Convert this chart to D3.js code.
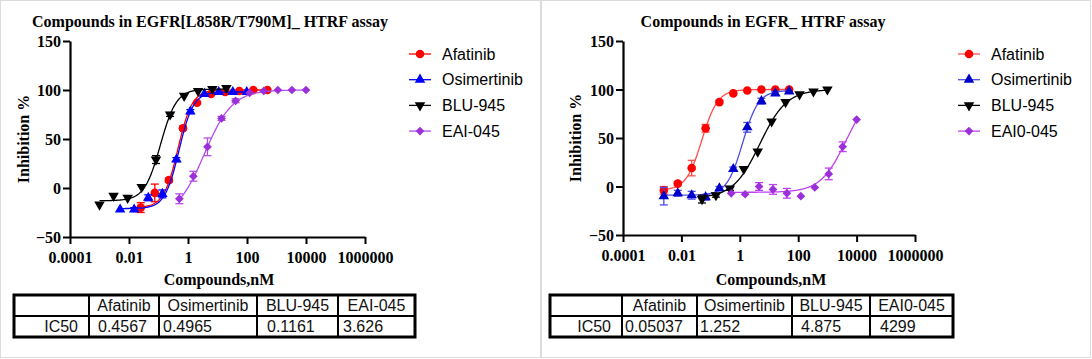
<!DOCTYPE html>
<html>
<head>
<meta charset="utf-8">
<script src="https://cdn.jsdelivr.net/npm/d3@7"></script>
<style>
  body { margin: 0; background: #fff; }
  svg { display: block; }
  .serif { font-family: "Liberation Serif", "Times New Roman", serif; font-weight: bold; }
  .sans { font-family: "Liberation Sans", Arial, sans-serif; }
</style>
</head>
<body>
<script>
// ---- data ----
const xTickValues = [1e-4, 1e-2, 1, 1e2, 1e4, 1e6];
const xTickLabels = ['0.0001', '0.01', '1', '100', '10000', '1000000'];
const yTickValues = [-50, 0, 50, 100, 150];

// left panel: EGFR[L858R/T790M]
const leftTitle = 'Compounds in EGFR[L858R/T790M]_ HTRF assay';
const leftNames = ['Afatinib', 'Osimertinib', 'BLU-945', 'EAI-045'];
const leftIC50 = ['0.4567', '0.4965', '0.1161', '3.626'];
const leftConcAfatinib = [0.025, 0.075, 0.225, 0.675, 2.03, 6.08, 18.2, 54.7, 164, 492];
const leftAfatinib = [-20, -5, 8, 61, 87, 96, 98, 99, 100, 100];
const leftAfatinibErr = [5, 9, 2, 2, 1, 1, 1, 1, 1, 1];
const leftConcOsimertinib = [0.005, 0.015, 0.045, 0.135, 0.405, 1.2, 3.6, 11, 33, 98];
const leftOsimertinib = [-22, -22, -10, -6, 29, 78, 96, 98, 98, 98];
const leftOsimertinibErr = [1, 2, 3, 4, 2, 2, 1, 1, 1, 1];
const leftConcBLU = [0.001, 0.003, 0.009, 0.027, 0.082, 0.247, 0.74, 2.2, 6.7, 20];
const leftBLU = [-17, -8, -10, 1, 29, 75, 94, 99, 101, 102];
const leftBLUErr = [1, 1, 1, 1, 4, 2, 1, 1, 1, 1];
const leftConcEAI = [0.51, 1.52, 4.57, 13.7, 41, 123, 370, 1111, 3333, 10000];
const leftEAI = [-11, 12, 42, 71, 89, 97, 99, 100, 100, 100];
const leftEAIErr = [5, 5, 9, 2, 2, 1, 1, 0, 0, 0];
// fitted 4PL curves (bottom, top, hill); IC50 from the table
const leftBottom = [-20, -21, -13, -30];
const leftTop = [100, 98, 101, 100];
const leftHill = [1.8, 1.8, 1.6, 0.92];

// right panel: EGFR wt
const rightTitle = 'Compounds in EGFR_ HTRF assay';
const rightNames = ['Afatinib', 'Osimertinib', 'BLU-945', 'EAI0-045'];
const rightIC50 = ['0.05037', '1.252', '4.875', '4299'];
const rightConcAfatinib = [0.0025, 0.0075, 0.0225, 0.0675, 0.2, 0.6, 1.8, 5.5, 16.5, 49];
const rightAfatinib = [-4, 3, 19, 60, 87, 96, 99, 100, 100, 100];
const rightAfatinibErr = [4, 2, 8, 4, 2, 1, 1, 1, 1, 1];
const rightConcOsimertinib = [0.0025, 0.0075, 0.0225, 0.0675, 0.2, 0.6, 1.8, 5.5, 16.5, 49];
const rightOsimertinib = [-10, -7, -9, -11, -2, 18, 61, 88, 96, 98];
const rightOsimertinibErr = [9, 3, 4, 3, 2, 2, 5, 3, 2, 1];
const rightConcBLU = [0.0508, 0.152, 0.457, 1.37, 4.12, 12.3, 37, 111, 333, 1000];
const rightBLU = [-13, -9, -2, 18, 36, 67, 87, 95, 98, 100];
const rightBLUErr = [4, 2, 2, 1, 1, 1, 1, 1, 1, 1];
const rightConcEAI = [0.508, 1.52, 4.57, 13.7, 41, 123, 370, 1111, 3333, 10000];
const rightEAI = [-7, -8, 0, -3, -7, -10, -1, 13, 41, 69];
const rightEAIErr = [1, 1, 4, 5, 5, 1, 1, 6, 5, 1];
const rightBottom = [-4, -9, -12, -6];
const rightTop = [100, 99, 100, 100];
const rightHill = [1.6, 1.6, 0.95, 1.0];

// ---- styling ----
const W = 1092, H = 359;
const symbols = [
  {type: d3.symbolCircle, size: 58, rot: 0},
  {type: d3.symbolTriangle, size: 48, rot: 0},
  {type: d3.symbolTriangle, size: 48, rot: 180},
  {type: d3.symbolSquare, size: 38, rot: 45}
];
const leftColors = {line: ['#ff0000', '#0000ff', '#000000', '#b54dee'], mark: ['#ff0000', '#0000ff', '#000000', '#9b30d9']};
const rightColors = {line: ['#ff4d4d', '#4d4de6', '#000000', '#c040f0'], mark: ['#ff0000', '#0000cc', '#000000', '#9b30d9']};

const svg = d3.select('body').append('svg').attr('width', W).attr('height', H);

// panel frames
svg.append('rect').attr('x', 0.5).attr('y', 0.5).attr('width', 540).attr('height', 357)
  .attr('fill', 'none').attr('stroke', '#dcdcdc');
svg.append('rect').attr('x', 541.5).attr('y', 0.5).attr('width', 549).attr('height', 357)
  .attr('fill', 'none').attr('stroke', '#dcdcdc');

const fourPL = (c, bottom, top, hill, ic50) =>
  bottom + (top - bottom) / (1 + Math.pow(10, hill * (Math.log10(ic50) - Math.log10(c))));

function drawPanel(cfg) {
  const x = d3.scaleLog().domain([1e-4, 1e6]).range([cfg.x0, cfg.x1]);
  const y = d3.scaleLinear().domain([-50, 150]).range([cfg.yBottom, cfg.yTop]);
  const g = svg.append('g');

  g.append('text').attr('class', 'serif').attr('x', cfg.titleX).attr('y', 27)
    .attr('text-anchor', 'middle').attr('font-size', 16).text(cfg.title);

  const xAxis = g.append('g').attr('transform', `translate(0,${cfg.yBottom})`)
    .call(d3.axisBottom(x).tickValues(xTickValues).tickSize(7).tickSizeOuter(0)
      .tickFormat((d, i) => xTickLabels[i]));
  const yAxis = g.append('g').attr('transform', `translate(${cfg.x0},0)`)
    .call(d3.axisLeft(y).tickValues(yTickValues).tickSize(7).tickSizeOuter(0));
  [xAxis, yAxis].forEach(a => {
    a.select('.domain').attr('stroke-width', 2.2);
    a.selectAll('.tick line').attr('stroke-width', 2);
    a.selectAll('.tick text').attr('class', 'serif').attr('font-size', 16).attr('fill', '#000');
  });
  xAxis.selectAll('.tick text').attr('dy', null).attr('y', 26);
  yAxis.selectAll('.tick text').attr('x', -9).attr('dy', '0.35em');

  g.append('text').attr('class', 'serif').attr('font-size', 16)
    .attr('transform', `translate(${cfg.yLabelX},${(cfg.yTop + cfg.yBottom) / 2}) rotate(-90)`)
    .attr('text-anchor', 'middle').text('Inhibition %');
  g.append('text').attr('class', 'serif').attr('font-size', 16)
    .attr('x', cfg.xLabelX).attr('y', 285).attr('text-anchor', 'middle').text('Compounds,nM');

  const line = d3.line().x(d => x(d[0])).y(d => y(d[1]));

  cfg.series.forEach((s, i) => {
    const lineColor = cfg.colors.line[i], markColor = cfg.colors.mark[i];
    const ic50 = +cfg.ic50[i];
    const lo = Math.log10(d3.min(s.conc)), hi = Math.log10(d3.max(s.conc));
    const curve = d3.range(0, 201).map(k => {
      const c = Math.pow(10, lo + (hi - lo) * k / 200);
      return [c, fourPL(c, cfg.bottom[i], cfg.top[i], cfg.hill[i], ic50)];
    });
    g.append('path').attr('d', line(curve)).attr('fill', 'none')
      .attr('stroke', lineColor).attr('stroke-width', 1.3);

    const pts = s.conc.map((c, j) => ({c, v: s.vals[j], e: s.err[j]}));
    const eb = g.append('g').attr('stroke', lineColor).attr('stroke-width', 1.3);
    pts.filter(p => p.e >= 2).forEach(p => {
      const px = x(p.c);
      eb.append('line').attr('x1', px).attr('x2', px).attr('y1', y(p.v - p.e)).attr('y2', y(p.v + p.e));
      [p.v - p.e, p.v + p.e].forEach(v =>
        eb.append('line').attr('x1', px - 4).attr('x2', px + 4).attr('y1', y(v)).attr('y2', y(v)));
    });
    const sym = d3.symbol().type(symbols[i].type).size(symbols[i].size);
    g.selectAll(null).data(pts).enter().append('path')
      .attr('d', sym)
      .attr('transform', p => `translate(${x(p.c)},${y(p.v)}) rotate(${symbols[i].rot})`)
      .attr('fill', markColor);

    // legend
    const ly = 54 + i * 25.7;
    g.append('line').attr('x1', cfg.legendX - 11).attr('x2', cfg.legendX + 11)
      .attr('y1', ly).attr('y2', ly).attr('stroke', lineColor).attr('stroke-width', 1.3);
    g.append('path').attr('d', sym)
      .attr('transform', `translate(${cfg.legendX},${ly}) rotate(${symbols[i].rot})`)
      .attr('fill', markColor);
    g.append('text').attr('class', 'sans').attr('font-size', 16)
      .attr('x', cfg.legendX + 22).attr('y', ly).attr('dy', '0.35em').text(cfg.names[i]);
  });

  // IC50 table
  const t = cfg.table;
  const tg = svg.append('g').attr('class', 'sans').attr('font-size', 16).attr('fill', '#111');
  const rowMid = (t.y0 + t.y2) / 2;
  tg.append('rect').attr('x', t.cols[0]).attr('y', t.y0)
    .attr('width', t.cols[t.cols.length - 1] - t.cols[0]).attr('height', t.y2 - t.y0)
    .attr('fill', 'none').attr('stroke', '#000').attr('stroke-width', 3);
  tg.append('line').attr('x1', t.cols[0]).attr('x2', t.cols[t.cols.length - 1])
    .attr('y1', rowMid).attr('y2', rowMid).attr('stroke', '#000').attr('stroke-width', 2);
  t.cols.slice(1, -1).forEach(cx =>
    tg.append('line').attr('x1', cx).attr('x2', cx).attr('y1', t.y0).attr('y2', t.y2)
      .attr('stroke', '#000').attr('stroke-width', 2));
  cfg.names.forEach((n, i) => {
    tg.append('text').attr('x', (t.cols[i + 1] + t.cols[i + 2]) / 2).attr('y', (t.y0 + rowMid) / 2)
      .attr('dy', '0.35em').attr('text-anchor', 'middle').text(n);
    tg.append('text').attr('x', t.cols[i + 1] + t.valuePad[i]).attr('y', (rowMid + t.y2) / 2)
      .attr('dy', '0.35em').text(cfg.ic50[i]);
  });
  tg.append('text').attr('x', t.cols[1] - 11).attr('y', (rowMid + t.y2) / 2)
    .attr('dy', '0.35em').attr('text-anchor', 'end').text('IC50');
}

drawPanel({
  title: leftTitle, names: leftNames, ic50: leftIC50, colors: leftColors,
  bottom: leftBottom, top: leftTop, hill: leftHill,
  series: [
    {conc: leftConcAfatinib, vals: leftAfatinib, err: leftAfatinibErr},
    {conc: leftConcOsimertinib, vals: leftOsimertinib, err: leftOsimertinibErr},
    {conc: leftConcBLU, vals: leftBLU, err: leftBLUErr},
    {conc: leftConcEAI, vals: leftEAI, err: leftEAIErr}
  ],
  x0: 70, x1: 365, yTop: 41, yBottom: 237,
  titleX: 210, yLabelX: 29, xLabelX: 219, legendX: 420,
  table: {cols: [14, 89, 159, 257, 338, 415], y0: 295, y2: 337, valuePad: [9, 4, 10, 5]}
});

drawPanel({
  title: rightTitle, names: rightNames, ic50: rightIC50, colors: rightColors,
  bottom: rightBottom, top: rightTop, hill: rightHill,
  series: [
    {conc: rightConcAfatinib, vals: rightAfatinib, err: rightAfatinibErr},
    {conc: rightConcOsimertinib, vals: rightOsimertinib, err: rightOsimertinibErr},
    {conc: rightConcBLU, vals: rightBLU, err: rightBLUErr},
    {conc: rightConcEAI, vals: rightEAI, err: rightEAIErr}
  ],
  x0: 623, x1: 915, yTop: 41, yBottom: 235,
  titleX: 763, yLabelX: 581, xLabelX: 771, legendX: 969,
  table: {cols: [550, 622, 697, 792, 870, 953], y0: 295, y2: 337, valuePad: [3, 3, 9, 10]}
});
</script>
</body>
</html>
